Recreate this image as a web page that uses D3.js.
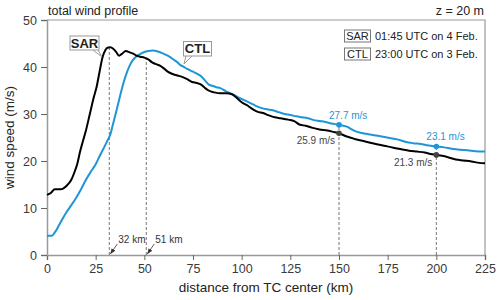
<!DOCTYPE html>
<html>
<head>
<meta charset="utf-8">
<script src="https://cdn.jsdelivr.net/npm/d3@7"></script>
<style>
  body { margin: 0; background: #fff; }
  text { font-family: "Liberation Sans", Arial, sans-serif; }
</style>
</head>
<body>
<script>
// SAR profile (black)
var sarDist  = [0, 2, 4, 7, 10, 12.5, 14, 15.5, 17, 18.5, 20, 22, 24, 25.5, 27, 28.5, 30, 31, 32.5, 34, 35.5, 37, 38.5, 40.5, 42.5, 44.5, 46, 48, 50, 52, 54, 56, 58, 60, 62, 64.5, 67, 70, 72, 74.5, 77, 79, 81, 83, 86, 89, 92, 95, 97, 100, 103, 105, 108, 111, 114, 117, 120, 124, 127, 130, 133, 136, 140, 144, 147, 150, 154, 158, 162, 166, 170, 174, 178, 182, 186, 190, 194, 197, 200, 203, 206, 210, 214, 218, 222, 225];
var sarSpeed = [12.8, 13.2, 14.0, 14.0, 14.7, 16.0, 17.5, 19.3, 22.0, 24.3, 26.5, 30.0, 33.5, 35.8, 39.0, 42.0, 43.6, 44.1, 44.2, 43.9, 43.2, 42.4, 42.8, 43.4, 43.1, 42.8, 42.4, 42.2, 42.0, 41.6, 41.0, 40.6, 40.3, 39.7, 39.0, 38.5, 38.2, 37.8, 37.4, 36.8, 36.6, 36.3, 35.6, 35.0, 34.6, 34.4, 34.4, 34.2, 33.6, 32.5, 31.8, 31.2, 30.5, 30.2, 29.7, 29.3, 29.1, 28.8, 28.5, 27.7, 27.5, 27.1, 26.7, 26.5, 26.2, 25.9, 25.2, 24.7, 24.3, 23.9, 23.5, 23.2, 22.8, 22.5, 22.2, 22.0, 21.8, 21.5, 21.3, 21.1, 20.8, 20.3, 20.1, 19.9, 19.6, 19.5];

// CTL profile (blue)
var ctlDist  = [0, 2.5, 4, 6, 8, 10, 12.5, 15, 17.5, 20, 22.5, 25, 27, 29, 31, 32.5, 34, 35.8, 37.5, 39.2, 41, 42.6, 44, 46, 48, 50, 52, 54.5, 57, 59.5, 62, 65, 67, 68.5, 70, 72, 75, 77, 79, 81, 83, 85, 87, 89, 92, 95, 98, 101, 104, 107, 110, 113, 116, 119, 122, 125, 128, 131, 134, 137, 140, 143, 146, 150, 154, 158, 161, 164, 168, 172, 176, 180, 184, 188, 192, 196, 200, 204, 208, 212, 216, 220, 225];
var ctlSpeed = [4.1, 4.1, 4.8, 6.2, 7.7, 9.1, 10.6, 12.2, 14.0, 16.0, 17.7, 19.3, 21.0, 22.6, 24.3, 25.6, 28.0, 30.9, 33.8, 36.5, 38.8, 40.4, 41.4, 42.3, 42.8, 43.2, 43.4, 43.5, 43.3, 42.9, 42.4, 41.6, 41.0, 40.4, 40.1, 39.6, 39.0, 38.6, 38.1, 37.2, 36.3, 36.0, 35.7, 35.5, 34.8, 34.3, 33.6, 33.0, 32.4, 31.8, 31.3, 31.0, 30.8, 30.4, 30.0, 29.8, 29.5, 29.3, 29.1, 28.7, 28.5, 28.3, 28.0, 27.7, 27.3, 26.4, 26.0, 25.8, 25.5, 25.2, 24.9, 24.6, 24.1, 23.8, 23.6, 23.3, 23.1, 22.9, 22.6, 22.4, 22.3, 22.1, 22.0];

// radius of maximum wind and sample points
var rmwDist = [32, 51];
var rmwTop  = [44.0, 41.9];
var rmwLabels = ["32 km", "51 km"];
var sampleDist = [150, 200];
var sampleSar  = [25.9, 21.3];
var sampleCtl  = [27.7, 23.1];

var xTicks = [0, 25, 50, 75, 100, 125, 150, 175, 200, 225];
var yTicks = [0, 10, 20, 30, 40, 50];

var legendNames = ["SAR", "CTL"];
var legendTimes = ["01:45 UTC on 4 Feb.", "23:00 UTC on 3 Feb."];

var blue = "#1e95d6";
var frameGrey = "#999";

var margin = {top: 20, right: 15, bottom: 45, left: 47},
    width = 500 - margin.left - margin.right,
    height = 300 - margin.top - margin.bottom;

var svg = d3.select("body")
  .append("svg")
    .attr("width", 500)
    .attr("height", 300);

var g = svg.append("g")
    .attr("transform", "translate(" + margin.left + "," + margin.top + ")");

var x = d3.scaleLinear().domain([0, 225]).range([0, width]);
var y = d3.scaleLinear().domain([0, 50]).range([height, 0]);

// frame top + right
g.append("path")
    .attr("d", "M0,0H" + width + "V" + height)
    .attr("fill", "none")
    .attr("stroke", frameGrey)
    .attr("stroke-width", 1.2);

// axes
var xAxis = g.append("g")
    .attr("transform", "translate(0," + height + ")")
    .call(d3.axisBottom(x).tickValues(xTicks).tickSize(5).tickPadding(4));
var yAxis = g.append("g")
    .call(d3.axisLeft(y).tickValues(yTicks).tickSize(6).tickPadding(4));

[xAxis, yAxis].forEach(function(a) {
  a.select(".domain").attr("stroke", frameGrey).attr("stroke-width", 1.5);
  a.selectAll(".tick line").attr("stroke", "#666");
  a.selectAll(".tick text")
    .attr("fill", "#3a3a3a")
    .style("font-size", "12.5px")
    .style("font-family", "'Liberation Sans', Arial, sans-serif");
});

// dashed guides
var dash = "3,2";
g.selectAll(".rmw")
  .data(rmwDist)
  .enter().append("line")
    .attr("x1", function(d) { return x(d); })
    .attr("x2", function(d) { return x(d); })
    .attr("y1", y(0))
    .attr("y2", function(d, i) { return y(rmwTop[i]); })
    .attr("stroke", "#777")
    .attr("stroke-width", 1)
    .attr("stroke-dasharray", dash);

g.selectAll(".samp")
  .data(sampleDist)
  .enter().append("line")
    .attr("x1", function(d) { return x(d); })
    .attr("x2", function(d) { return x(d); })
    .attr("y1", y(0))
    .attr("y2", function(d, i) { return y(sampleCtl[i]); })
    .attr("stroke", "#777")
    .attr("stroke-width", 1)
    .attr("stroke-dasharray", dash);

// lines
var line = d3.line()
    .x(function(d) { return x(d[0]); })
    .y(function(d) { return y(d[1]); })
    .curve(d3.curveMonotoneX);

g.append("path")
    .datum(d3.zip(ctlDist, ctlSpeed))
    .attr("d", line)
    .attr("fill", "none")
    .attr("stroke", blue)
    .attr("stroke-width", 2);

g.append("path")
    .datum(d3.zip(sarDist, sarSpeed))
    .attr("d", line)
    .attr("fill", "none")
    .attr("stroke", "#000")
    .attr("stroke-width", 2);

// sample dots + labels
g.selectAll(".dotc")
  .data(sampleDist)
  .enter().append("circle")
    .attr("cx", function(d) { return x(d); })
    .attr("cy", function(d, i) { return y(sampleCtl[i]); })
    .attr("r", 2.8)
    .attr("fill", blue);
g.selectAll(".dots")
  .data(sampleDist)
  .enter().append("circle")
    .attr("cx", function(d) { return x(d); })
    .attr("cy", function(d, i) { return y(sampleSar[i]); })
    .attr("r", 2.8)
    .attr("fill", "#444");

g.selectAll(".labc")
  .data(sampleDist)
  .enter().append("text")
    .attr("x", function(d) { return x(d) - 10; })
    .attr("y", function(d, i) { return y(sampleCtl[i]) - 6; })
    .attr("fill", blue)
    .style("font-size", "10px")
    .text(function(d, i) { return sampleCtl[i].toFixed(1) + " m/s"; });
g.selectAll(".labs")
  .data(sampleDist)
  .enter().append("text")
    .attr("x", function(d) { return x(d) - 4; })
    .attr("y", function(d, i) { return y(sampleSar[i]) + 11; })
    .attr("text-anchor", "end")
    .attr("fill", "#444")
    .style("font-size", "10px")
    .text(function(d, i) { return sampleSar[i].toFixed(1) + " m/s"; });

// arrows to RMW
svg.append("defs").append("marker")
    .attr("id", "arr")
    .attr("viewBox", "0 0 10 10")
    .attr("refX", 10).attr("refY", 5)
    .attr("markerWidth", 7).attr("markerHeight", 7)
    .attr("orient", "auto")
  .append("path")
    .attr("d", "M0,1L10,5L0,9z")
    .attr("fill", "#333");

g.selectAll(".arrow")
  .data(rmwDist)
  .enter().append("line")
    .attr("x1", function(d) { return x(d) + 8; })
    .attr("y1", y(0) - 11)
    .attr("x2", function(d) { return x(d) + 1; })
    .attr("y2", y(0) - 1)
    .attr("stroke", "#333")
    .attr("stroke-width", 0.8)
    .attr("marker-end", "url(#arr)");

g.selectAll(".rmwlab")
  .data(rmwDist)
  .enter().append("text")
    .attr("x", function(d) { return x(d) + 9; })
    .attr("y", y(0) - 12)
    .attr("fill", "#333")
    .style("font-size", "10px")
    .text(function(d, i) { return rmwLabels[i]; });

// callouts
function callout(label, bx, by, bw, bh, tail) {
  var c = svg.append("g");
  c.append("path")
      .attr("d", tail)
      .attr("fill", "#fff")
      .attr("stroke", frameGrey)
      .attr("stroke-width", 1);
  c.append("rect")
      .attr("x", bx).attr("y", by)
      .attr("width", bw).attr("height", bh)
      .attr("fill", "#fff")
      .attr("stroke", frameGrey)
      .attr("stroke-width", 1);
  c.append("text")
      .attr("x", bx + bw / 2)
      .attr("y", by + bh / 2 + 4.5)
      .attr("text-anchor", "middle")
      .attr("fill", "#222")
      .style("font-size", "13px")
      .style("font-weight", "bold")
      .text(label);
}
callout("SAR", 70, 36, 29, 14, "M93,50L102,57L98,50");
callout("CTL", 183.5, 41.5, 28, 14.5, "M186,56L184,64L192,56");

// legend
var leg = svg.append("g");
legendNames.forEach(function(n, i) {
  var yy = 36 + i * 18;
  leg.append("rect")
      .attr("x", 344.5).attr("y", yy - 6)
      .attr("width", 26).attr("height", 12)
      .attr("fill", "#fff")
      .attr("stroke", "#777")
      .attr("stroke-width", 1);
  leg.append("text")
      .attr("x", 357.5).attr("y", yy + 4)
      .attr("text-anchor", "middle")
      .attr("fill", "#222")
      .style("font-size", "11px")
      .text(n);
  leg.append("text")
      .attr("x", 375).attr("y", yy + 4)
      .attr("fill", "#222")
      .style("font-size", "11px")
      .text(legendTimes[i]);
});

// titles and axis labels
var labels = svg.append("g");
labels.append("text")
    .attr("x", 48).attr("y", 15)
    .attr("fill", "#222")
    .style("font-size", "12.5px")
    .text("total wind profile");
labels.append("text")
    .attr("x", 484).attr("y", 15)
    .attr("text-anchor", "end")
    .attr("fill", "#222")
    .style("font-size", "12.5px")
    .text("z = 20 m");
labels.append("text")
    .attr("x", margin.left + width / 2).attr("y", 292)
    .attr("text-anchor", "middle")
    .attr("fill", "#222")
    .style("font-size", "13.5px")
    .text("distance from TC center (km)");
labels.append("text")
    .attr("transform", "translate(14," + (margin.top + height / 2) + ") rotate(-90)")
    .attr("text-anchor", "middle")
    .attr("fill", "#222")
    .style("font-size", "13.5px")
    .text("wind speed (m/s)");
</script>
</body>
</html>
